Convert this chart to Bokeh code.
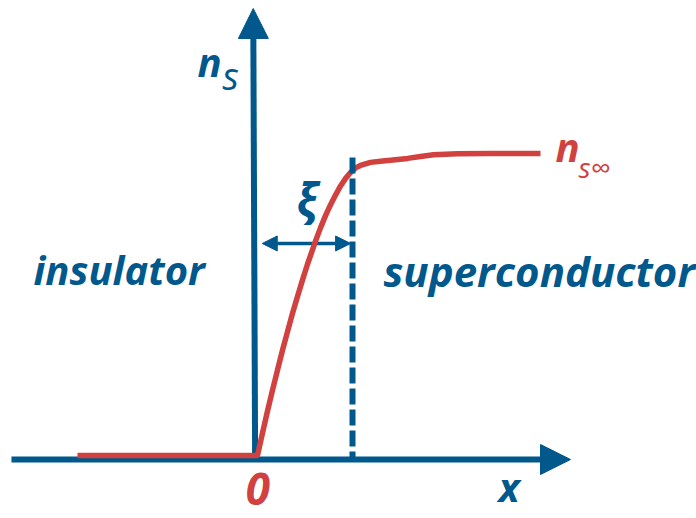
from bokeh.plotting import figure
from bokeh.models import Range1d, Arrow, NormalHead
from bokeh.core.properties import value
from bokeh.embed import file_html
from bokeh.resources import INLINE

BLUE = "#00588C"
RED = "#D0413F"
FONT = "Open Sans"

# n_s(x) profile: x in units of xi, n_s in units of n_s_inf
curve_x = [-1.895, 0.0, 0.053, 0.105, 0.158, 0.211, 0.263, 0.316, 0.368, 0.421,
           0.474, 0.526, 0.611, 0.663, 0.716, 0.768, 0.821, 0.874, 0.926, 0.979,
           1.032, 1.084, 1.189, 1.295, 1.4, 1.579, 1.716, 1.853, 2.105, 2.453, 2.979]
curve_y = [0.013, 0.013, 0.087, 0.158, 0.227, 0.293, 0.357, 0.418, 0.477, 0.533,
           0.587, 0.638, 0.714, 0.757, 0.797, 0.832, 0.864, 0.894, 0.918, 0.938,
           0.953, 0.961, 0.971, 0.975, 0.978, 0.984, 0.990, 0.996, 0.999, 1.0, 1.0]

xi = 1.0
ns_inf = 1.0
dash_top = 0.987

# layout (pixel mapping)
W, H = 696, 518
PX0, PY0 = 257, 459      # origin in canvas pixels
UX, UY = 95.0, 306.0     # pixels per unit

x_range = Range1d(-PX0 / UX, (W - PX0) / UX)
y_range = Range1d(-(H - PY0) / UY, PY0 / UY)

p = figure(width=W, height=H, x_range=x_range, y_range=y_range,
           output_backend="svg", toolbar_location=None,
           x_axis_type=None, y_axis_type=None, min_border=0)
p.outline_line_color = None
p.grid.visible = False

# axes with arrows
p.add_layout(Arrow(x_start=-2.59, y_start=0, x_end=3.295, y_end=0,
                   line_color=BLUE, line_width=6, level="underlay",
                   end=NormalHead(size=30, fill_color=BLUE, line_color=BLUE)))
p.add_layout(Arrow(x_start=-0.025, y_start=0, x_end=-0.045, y_end=(PY0 - 8) / UY,
                   line_color=BLUE, line_width=6, level="underlay",
                   end=NormalHead(size=30, fill_color=BLUE, line_color=BLUE)))

# xi double arrow
p.add_layout(Arrow(x_start=0.05, y_start=0.706, x_end=xi - 0.02, y_end=0.706,
                   line_color=BLUE, line_width=3.5, level="underlay",
                   start=NormalHead(size=15, fill_color=BLUE, line_color=BLUE),
                   end=NormalHead(size=15, fill_color=BLUE, line_color=BLUE)))

# curve
p.line(curve_x, curve_y, line_color=RED, line_width=5.5, line_join="round")

# dashed line at x = xi
p.line([xi, xi], [dash_top, 0], line_color=BLUE, line_width=6, line_dash="16 5")

def txt(x, y, s, size, color, style="bold italic", align="left",
        baseline="alphabetic", k=0.4):
    y_adj = y + k * size / UY
    p.text([x], [y_adj], text=[s], text_color=color, text_font=value(FONT),
           text_font_size=f"{size}px", text_font_style=style,
           text_align=align, text_baseline=baseline)

txt(-2.358, 0.569, "insulator", 40, BLUE)
txt(1.326, 0.562, "superconductor", 42, BLUE)
txt(-0.632, 1.248, "n", 40, BLUE)
txt(-0.368, 1.206, "s", 38, BLUE, style="italic")
txt(3.137, 0.971, "n", 40, RED)
txt(3.379, 0.918, "s\u221e", 28, RED, style="italic")
txt(0.52, 0.829, "\u03be", 46, BLUE, style="bold italic", align="center",
    baseline="middle", k=0.15)
txt(0.005, -0.1536, "0", 44, RED, align="center")
txt(2.537, -0.1405, "x", 40, BLUE)

open("out.html", "w").write(file_html(p, INLINE))
